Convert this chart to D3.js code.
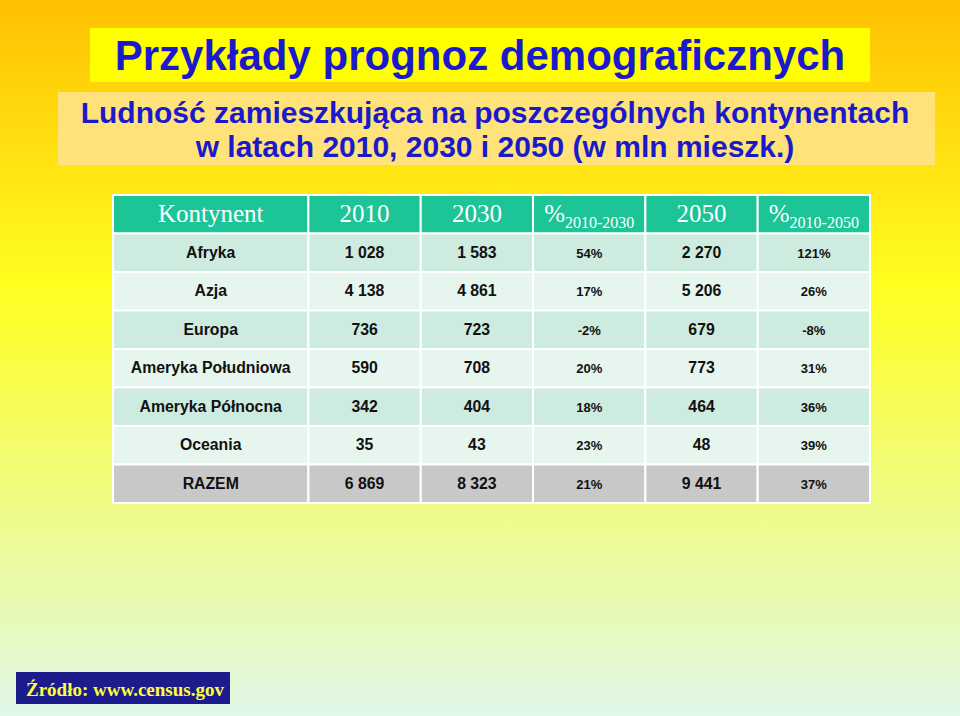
<!DOCTYPE html>
<html><head><meta charset="utf-8">
<script src="https://cdn.jsdelivr.net/npm/d3@7"></script>
<style>body{margin:0}svg{display:block}</style>
</head><body><svg id="c" width="960" height="716"></svg>
<script>
const continents = ['Afryka', 'Azja', 'Europa', 'Ameryka Południowa', 'Ameryka Północna', 'Oceania', 'RAZEM'];
const pop2010 = ['1 028', '4 138', '736', '590', '342', '35', '6 869'];
const pop2030 = ['1 583', '4 861', '723', '708', '404', '43', '8 323'];
const pct2030 = ['54%', '17%', '-2%', '20%', '18%', '23%', '21%'];
const pop2050 = ['2 270', '5 206', '679', '773', '464', '48', '9 441'];
const pct2050 = ['121%', '26%', '-8%', '31%', '36%', '39%', '37%'];
const headers = ['Kontynent', '2010', '2030', '%', '2050', '%'];
const headerSubs = ['', '', '', '2010-2030', '', '2010-2050'];

const svg = d3.select('#c');
const defs = svg.append('defs');
const g = defs.append('linearGradient').attr('id', 'bg').attr('x1', 0).attr('y1', 0).attr('x2', 0).attr('y2', 1);
g.append('stop').attr('offset', '0%').attr('stop-color', '#ffc000');
g.append('stop').attr('offset', '40%').attr('stop-color', '#ffff20');
g.append('stop').attr('offset', '100%').attr('stop-color', '#e0f8e8');
svg.append('rect').attr('width', 960).attr('height', 716).attr('fill', 'url(#bg)');

// title
svg.append('rect').attr('x', 90).attr('y', 28).attr('width', 780).attr('height', 54).attr('fill', '#ffff00');
svg.append('text').attr('x', 480).attr('y', 70).attr('text-anchor', 'middle')
  .attr('font-family', 'Liberation Sans, Arial').attr('font-weight', 'bold').attr('font-size', 42)
  .attr('fill', '#1a1acc').text('Przykłady prognoz demograficznych');
svg.append('rect').attr('x', 58).attr('y', 92).attr('width', 877).attr('height', 73).attr('fill', '#ffe27a');
const sub = svg.append('text').attr('text-anchor', 'middle')
  .attr('font-family', 'Liberation Sans, Arial').attr('font-weight', 'bold').attr('font-size', 30).attr('fill', '#1a1acc');
sub.append('tspan').attr('x', 495).attr('y', 123).text('Ludność zamieszkująca na poszczególnych kontynentach');
sub.append('tspan').attr('x', 495).attr('y', 157).text('w latach 2010, 2030 i 2050 (w mln mieszk.)');

// table
const weights = [1.74, 1, 1, 1, 1, 1];
const cum = [0];
weights.forEach(w => cum.push(cum[cum.length - 1] + w));
const xs = d3.scaleLinear().domain([0, cum[cum.length - 1]]).range([113, 870]);
const y = d3.scaleBand().domain(d3.range(-1, continents.length)).range([195, 503]);
const cols = [continents, pop2010, pop2030, pct2030, pop2050, pct2050];

const hdr = svg.append('g');
headers.forEach((h, i) => {
  hdr.append('rect').attr('x', xs(cum[i])).attr('y', y(-1)).attr('width', xs(cum[i + 1]) - xs(cum[i]))
    .attr('height', y.bandwidth()).attr('fill', '#1cc497').attr('stroke', '#fff').attr('stroke-width', 2);
  const t = hdr.append('text').attr('x', (xs(cum[i]) + xs(cum[i + 1])) / 2).attr('y', y(-1) + 27)
    .attr('text-anchor', 'middle').attr('font-family', 'Liberation Serif, Times New Roman')
    .attr('font-size', 25).attr('fill', '#fff').text(h);
  if (headerSubs[i]) t.append('tspan').attr('dy', 6).attr('font-size', 16).text(headerSubs[i]);
});

continents.forEach((c, r) => {
  const fill = r === continents.length - 1 ? '#c8c8c8' : (r % 2 === 0 ? '#cdebdf' : '#e6f5ee');
  cols.forEach((col, i) => {
    svg.append('rect').attr('x', xs(cum[i])).attr('y', y(r)).attr('width', xs(cum[i + 1]) - xs(cum[i]))
      .attr('height', y.bandwidth()).attr('fill', fill).attr('stroke', '#fff').attr('stroke-width', 2);
    svg.append('text').attr('x', (xs(cum[i]) + xs(cum[i + 1])) / 2).attr('y', y(r) + y.bandwidth() / 2 + 5)
      .attr('text-anchor', 'middle').attr('font-family', 'Liberation Sans, Arial').attr('font-weight', 'bold')
      .attr('font-size', (i === 3 || i === 5) ? 13 : 15.8).attr('fill', '#111').text(col[r]);
  });
});

// source
svg.append('rect').attr('x', 16).attr('y', 672).attr('width', 214).attr('height', 32).attr('fill', '#1c1c8c');
svg.append('text').attr('x', 26).attr('y', 696).attr('font-family', 'Liberation Serif, Times New Roman')
  .attr('font-weight', 'bold').attr('font-size', 19).attr('fill', '#ffff40').text('Źródło: www.census.gov');
</script></body></html>
